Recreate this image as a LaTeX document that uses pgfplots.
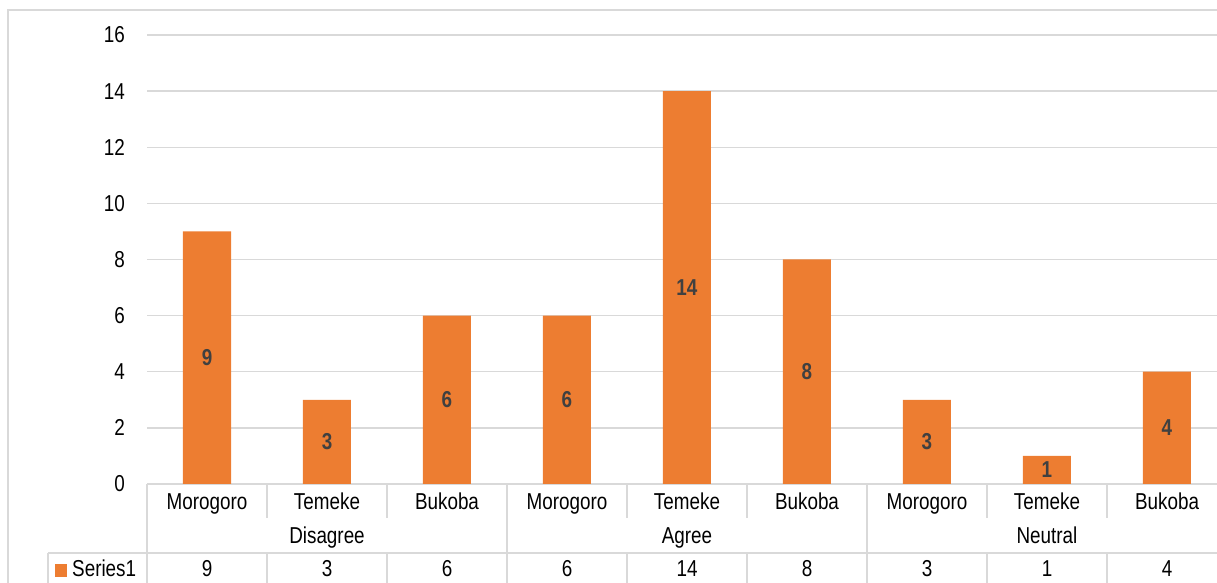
\documentclass[border=0pt]{standalone}
\usepackage{fontspec}
\setmainfont{Liberation Sans}[FakeStretch=0.82]
\usepackage{pgfplots}
\pgfplotsset{compat=1.18}
\definecolor{barorange}{HTML}{ED7D31}
\definecolor{gridgray}{HTML}{D9D9D9}
\definecolor{labelgray}{HTML}{404040}
\newcommand\fs{\fontsize{23}{27}\selectfont}

\begin{document}
\begin{tikzpicture}[x=1pt,y=1pt]
\begin{axis}[
    at={(147pt,99pt)}, anchor=south west,
    scale only axis, width=1080pt, height=449pt,
    xmin=-0.5, xmax=8.5, ymin=0, ymax=16,
    xtick=\empty, ytick={0,2,...,16},
    ymajorgrids, grid style={gridgray, line width=1.3pt},
    axis line style={draw=none},
    major tick length=0pt,
    yticklabel style={font=\fs, inner sep=0pt, xshift=-22pt, anchor=east},
    /pgf/number format/assume math mode=true,
    clip=false,
]
\addplot[ybar, bar width=48pt, fill=barorange, draw=none,
    visualization depends on={rawy \as \rawy},
    nodes near coords,
    nodes near coords style={font=\fs\bfseries, text=labelgray, inner sep=0pt,
        anchor=center, shift={(axis direction cs:0,-\rawy/2)}},
    /pgf/number format/assume math mode=true]
  coordinates {(0,9) (1,3) (2,6) (3,6) (4,14) (5,8) (6,3) (7,1) (8,4)};
\end{axis}

% outer chart border
\draw[gridgray, line width=1.3pt] (8,-5) -- (8,573) -- (1230,573);

% data table lines
\begin{scope}[gridgray, line width=1.3pt]
\draw (48,30) -- (1230,30);
\draw (48,30) -- (48,-5);
\foreach \x in {147,507,867} \draw (\x,99) -- (\x,-5);
\foreach \x in {267,387,627,747,987,1107} {
  \draw (\x,99) -- (\x,65);
  \draw (\x,30) -- (\x,-5);
}
\end{scope}

% table text
\foreach \lab [count=\i from 0] in {Morogoro,Temeke,Bukoba,Morogoro,Temeke,Bukoba,Morogoro,Temeke,Bukoba}
  \node[font=\fs, anchor=base, inner sep=0pt] at (207+120*\i,73) {\lab};
\foreach \lab [count=\i from 0] in {Disagree,Agree,Neutral}
  \node[font=\fs, anchor=base, inner sep=0pt] at (327+360*\i,39) {\lab};
\foreach \v [count=\i from 0] in {9,3,6,6,14,8,3,1,4}
  \node[font=\fs, anchor=base, inner sep=0pt] at (207+120*\i,6) {\v};
\fill[barorange] (55,6) rectangle (67,19);
\node[font=\fs, anchor=base west, inner sep=0pt] at (72,6) {Series1};

\pgfresetboundingbox
\path[use as bounding box] (0,0) rectangle (1217,583);
\end{tikzpicture}
\end{document}
